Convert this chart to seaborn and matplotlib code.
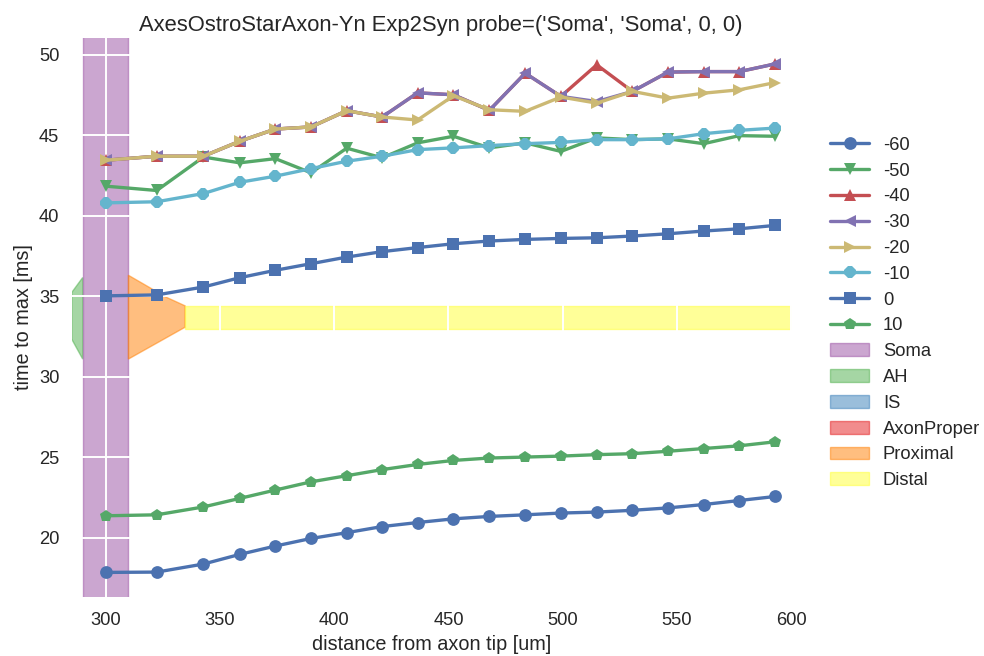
import matplotlib
matplotlib.use("Agg")
import matplotlib.pyplot as plt
import matplotlib.patches as mpatches
from matplotlib.lines import Line2D
import seaborn as sns
import pandas as pd

# ---------------- data ----------------
distance = [300, 322.4, 342.8, 358.7, 374.3, 389.9, 405.5, 421, 436.5, 452.2,
            467.9, 483.6, 499.2, 514.9, 530.5, 546.1, 561.7, 577.3, 593]

series_labels = ["-60", "-50", "-40", "-30", "-20", "-10", "0", "10"]

t_m60 = [17.83, 17.85, 18.35, 18.95, 19.47, 19.94, 20.3, 20.68, 20.93, 21.16,
         21.31, 21.41, 21.52, 21.58, 21.69, 21.84, 22.05, 22.3, 22.55]
t_m50 = [41.84, 41.57, 43.65, 43.29, 43.55, 42.67, 44.2, 43.6, 44.53, 44.94,
         44.22, 44.53, 44.0, 44.84, 44.73, 44.78, 44.48, 44.98, 44.94]
t_m40 = [43.45, 43.7, 43.7, 44.63, 45.39, 45.52, 46.53, 46.14, 47.64, 47.52,
         46.55, 48.86, 47.42, 49.38, 47.73, 48.93, 48.96, 48.96, 49.44]
t_m30 = [43.45, 43.7, 43.7, 44.63, 45.39, 45.52, 46.53, 46.14, 47.64, 47.52,
         46.55, 48.86, 47.42, 47.1, 47.73, 48.93, 48.96, 48.96, 49.44]
t_m20 = [43.45, 43.7, 43.7, 44.63, 45.39, 45.52, 46.53, 46.14, 45.95, 47.46,
         46.59, 46.49, 47.38, 47.0, 47.73, 47.31, 47.62, 47.83, 48.28]
t_m10 = [40.8, 40.87, 41.38, 42.08, 42.46, 42.93, 43.39, 43.7, 44.11, 44.22,
         44.36, 44.48, 44.56, 44.73, 44.73, 44.78, 45.1, 45.31, 45.45]
t_0 = [35.02, 35.08, 35.57, 36.15, 36.61, 37.02, 37.43, 37.77, 38.02, 38.26,
       38.43, 38.53, 38.59, 38.63, 38.74, 38.88, 39.05, 39.19, 39.4]
t_10 = [21.35, 21.41, 21.9, 22.43, 22.95, 23.46, 23.84, 24.22, 24.54, 24.79,
        24.94, 25.0, 25.06, 25.15, 25.21, 25.36, 25.53, 25.7, 25.95]

series_values = [t_m60, t_m50, t_m40, t_m30, t_m20, t_m10, t_0, t_10]

# morphology outline (data coordinates)
region_labels = ["Soma", "AH", "IS", "AxonProper", "Proximal", "Distal"]
soma_x = [290, 310, 310, 290]
soma_y = [10, 10, 60, 60]
ah_x = [285.2, 290, 290, 285.2]
ah_y = [35.23, 36.16, 31.09, 32.33]
prox_x = [310, 326.8, 334.8, 334.8, 310]
prox_y = [36.3, 34.92, 34.4, 33.07, 31.09]
distal_x = [334.8, 600.2, 600.2, 334.8]
distal_y = [34.37, 34.37, 32.94, 32.94]

# ---------------- style ----------------
sns.set_theme(style="darkgrid", rc={
    "axes.facecolor": "white",
    "figure.facecolor": "white",
    "grid.color": "white",
    "grid.linewidth": 1.4,
    "axes.axisbelow": "line",
})
plt.rcParams["font.family"] = ["Liberation Sans", "DejaVu Sans"]

line_colors = ["#4C72B0", "#55A868", "#C44E52", "#8172B2", "#CCB974", "#64B5CD", "#4C72B0", "#55A868"]
markers = ["o", "v", "^", "<", ">", "8", "s", "p"]
region_colors = sns.color_palette("Set1", 6)
region_color_map = {"Soma": region_colors[3], "AH": region_colors[2], "IS": region_colors[1],
                    "AxonProper": region_colors[0], "Proximal": region_colors[4], "Distal": region_colors[5]}

fig = plt.figure(figsize=(9.84, 6.56), dpi=100)
ax = fig.add_axes([0.0729, 0.0899, 0.7317, 0.8522])

# morphology patches
def draw_region(xv, yv, name):
    c = region_color_map[name]
    ax.fill(xv, yv, facecolor=c, edgecolor=c, alpha=0.5, linewidth=1.0, zorder=1)

draw_region(ah_x, ah_y, "AH")
draw_region(soma_x, soma_y, "Soma")
draw_region(prox_x, prox_y, "Proximal")
draw_region(distal_x, distal_y, "Distal")

# series
rows = []
for lab, vals in zip(series_labels, series_values):
    for d, v in zip(distance, vals):
        rows.append({"distance": d, "t": v, "V": lab})
df = pd.DataFrame(rows)

LW = 2.4
MS = 9.2
for lab, col, mk in zip(series_labels, line_colors, markers):
    sub = df[df["V"] == lab]
    sns.lineplot(data=sub, x="distance", y="t", ax=ax, color=col, marker=mk,
                 markersize=MS, linewidth=LW, markeredgewidth=0, markeredgecolor=col,
                 sort=False, legend=False, zorder=2)

ax.set_xlim(285.2, 600.2)
ax.set_ylim(16.3, 51.05)
ax.set_xticks([300, 350, 400, 450, 500, 550, 600])
ax.set_yticks([20, 25, 30, 35, 40, 45, 50])
ax.tick_params(axis="x", labelsize=13.2, pad=10.8, length=0)
ax.tick_params(axis="y", labelsize=13.2, pad=9, length=0)
for s in ax.spines.values():
    s.set_visible(False)

ax.set_xlabel("distance from axon tip [um]", fontsize=14.3, labelpad=4.4)
ax.set_ylabel("time to max [ms]", fontsize=14.3, labelpad=4)
ax.set_title("AxesOstroStarAxon-Yn Exp2Syn probe=('Soma', 'Soma', 0, 0)", fontsize=15.8,
             pad=5, x=0.512)

handles = []
for lab, col, mk in zip(series_labels, line_colors, markers):
    handles.append(Line2D([], [], color=col, marker=mk, markersize=MS, linewidth=LW,
                          markeredgewidth=0, label=lab))
for name in region_labels:
    c = region_color_map[name]
    handles.append(mpatches.Patch(facecolor=c, edgecolor=c, alpha=0.5, linewidth=1.0, label=name))

ax.legend(handles=handles, loc="center left", bbox_to_anchor=(1.043, 0.508), frameon=False,
          fontsize=13.2, handlelength=2.15, labelspacing=0.48, numpoints=1, handletextpad=0.73,
          borderaxespad=0)

fig.savefig("out.png", dpi=100)
